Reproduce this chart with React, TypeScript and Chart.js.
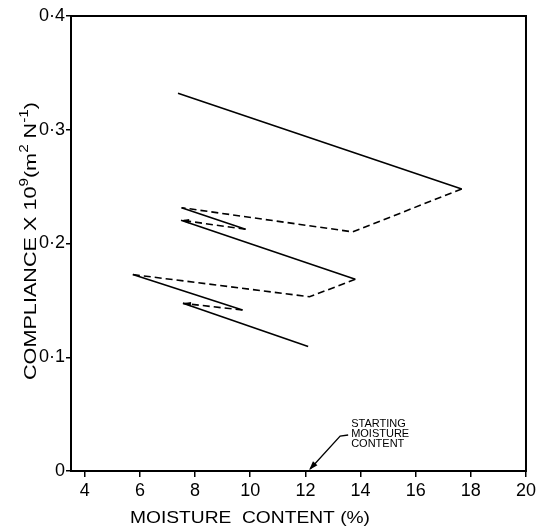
import React, { useEffect, useRef } from "react";
import { Chart, registerables } from "chart.js";

Chart.register(...registerables);

// Path of the compliance/moisture cycle (x: moisture %, y: compliance)
const moisture = [7.38, 17.67, 13.72, 7.51, 9.83, 7.49, 13.81, 12.15, 5.74, 9.72, 7.56, 12.1];
const compliance = [0.332, 0.248, 0.2102, 0.2315, 0.2125, 0.2205, 0.1685, 0.1532, 0.1727, 0.1415, 0.1474, 0.1095];
// style of the segment that starts at each point (true = dashed)
const segmentDashed = [false, true, true, false, true, false, true, true, false, true, false];
// points that carry a small arrow head
const arrowPointIdx = [5, 10];

const xTicks = [4, 6, 8, 10, 12, 14, 16, 18, 20];
const yTicks = [0, 0.1, 0.2, 0.3, 0.4];
const yTickLabels = ["0", "0·1", "0·2", "0·3", "0·4"];

const startingMoisture = 12.1;
const startingLabel = ["STARTING", "MOISTURE", "CONTENT"];
const xTitle = "MOISTURE  CONTENT (%)";
const yTitleParts: { t: string; sup: boolean }[] = [
  { t: "COMPLIANCE X 10", sup: false },
  { t: "9", sup: true },
  { t: "(m", sup: false },
  { t: "2", sup: true },
  { t: " N", sup: false },
  { t: "-1", sup: true },
  { t: ")", sup: false },
];

const FONT = "'Liberation Sans', Arial, sans-serif";

function arrowHead(ctx: CanvasRenderingContext2D, x: number, y: number, ang: number, len: number, half: number) {
  ctx.save();
  ctx.translate(x, y);
  ctx.rotate(ang);
  ctx.beginPath();
  ctx.moveTo(0, 0);
  ctx.lineTo(-len, -half);
  ctx.lineTo(-len, half);
  ctx.closePath();
  ctx.fill();
  ctx.restore();
}

const decorPlugin = {
  id: "decor",
  afterDraw(chart: any) {
    const ctx: CanvasRenderingContext2D = chart.ctx;
    const { left, right, top, bottom } = chart.chartArea;
    const xs = chart.scales.x;
    const ys = chart.scales.y;
    ctx.save();
    ctx.strokeStyle = "#000";
    ctx.fillStyle = "#000";
    // frame
    ctx.lineWidth = 2;
    ctx.strokeRect(left, top, right - left, bottom - top);

    // arrow heads on the path
    for (const i of arrowPointIdx) {
      const x1 = xs.getPixelForValue(moisture[i]);
      const y1 = ys.getPixelForValue(compliance[i]);
      const x0 = xs.getPixelForValue(moisture[i - 1]);
      const y0 = ys.getPixelForValue(compliance[i - 1]);
      arrowHead(ctx, x1, y1, Math.atan2(y1 - y0, x1 - x0), 8, 2.2);
    }

    // starting moisture annotation
    const tx = xs.getPixelForValue(startingMoisture);
    const ty = ys.getPixelForValue(0);
    ctx.lineWidth = 1.3;
    ctx.beginPath();
    ctx.moveTo(tx + 2, ty - 2);
    ctx.lineTo(tx + 32, ty - 35);
    ctx.lineTo(tx + 40, ty - 36);
    ctx.stroke();
    arrowHead(ctx, tx + 1, ty - 1, Math.atan2(33, -30), 9, 3);

    ctx.font = `11px ${FONT}`;
    ctx.textBaseline = "alphabetic";
    ctx.textAlign = "left";
    startingLabel.forEach((s, k) => {
      ctx.fillText(s, tx + 43, ty - 44 + k * 10);
    });

    // x title
    ctx.font = `17px ${FONT}`;
    const tw = ctx.measureText(xTitle).width;
    const targetW = 240;
    ctx.save();
    ctx.translate(250, 523);
    ctx.scale(targetW / tw, 1);
    ctx.textAlign = "center";
    ctx.fillText(xTitle, 0, 0);
    ctx.restore();

    // y title (rotated, with superscripts)
    const size = 17;
    const supSize = 12;
    let W = 0;
    const widths = yTitleParts.map((p) => {
      ctx.font = `${p.sup ? supSize : size}px ${FONT}`;
      const w = ctx.measureText(p.t).width;
      W += w;
      return w;
    });
    const targetY = 278;
    ctx.save();
    ctx.translate(36, 241);
    ctx.rotate(-Math.PI / 2);
    ctx.scale(targetY / W, 1);
    let cx = -W / 2;
    ctx.textAlign = "left";
    yTitleParts.forEach((p, k) => {
      ctx.font = `${p.sup ? supSize : size}px ${FONT}`;
      ctx.fillText(p.t, cx, p.sup ? -8 : 0);
      cx += widths[k];
    });
    ctx.restore();

    ctx.restore();
  },
};

export default function App() {
  const ref = useRef<HTMLCanvasElement | null>(null);
  useEffect(() => {
    document.body.style.margin = "0";
    const canvas = ref.current;
    if (!canvas) return;
    const chart = new Chart(canvas, {
      type: "scatter",
      data: {
        datasets: [
          {
            data: moisture.map((x, i) => ({ x, y: compliance[i] })),
            showLine: true,
            borderColor: "#000",
            borderWidth: 1.6,
            pointRadius: 0,
            fill: false,
            segment: {
              borderDash: (c: any) => (segmentDashed[c.p0DataIndex] ? [7, 4] : []),
            },
          } as any,
        ],
      },
      options: {
        animation: false,
        responsive: false,
        maintainAspectRatio: false,
        layout: { padding: { top: 16, right: 12, left: 0, bottom: 0 } },
        plugins: { legend: { display: false }, tooltip: { enabled: false } },
        scales: {
          x: {
            type: "linear",
            min: 3.5,
            max: 20,
            afterBuildTicks: (s: any) => {
              s.ticks = xTicks.map((v) => ({ value: v }));
            },
            afterFit: (s: any) => {
              s.height = 58;
            },
            ticks: {
              color: "#000",
              font: { family: FONT, size: 18 },
              padding: 3,
              maxRotation: 0,
              autoSkip: false,
              callback: (v: any) => String(v),
            },
            grid: {
              display: true,
              drawOnChartArea: false,
              drawTicks: true,
              tickLength: 6,
              color: "#000",
              lineWidth: 1.5,
            },
            border: { display: false },
          },
          y: {
            type: "linear",
            min: 0,
            max: 0.4,
            afterBuildTicks: (s: any) => {
              s.ticks = yTicks.map((v) => ({ value: v }));
            },
            afterFit: (s: any) => {
              s.width = 71;
            },
            ticks: {
              color: "#000",
              font: { family: FONT, size: 18 },
              padding: 1,
              autoSkip: false,
              callback: (v: any) => {
                const i = yTicks.findIndex((t) => Math.abs(t - Number(v)) < 1e-9);
                return i >= 0 ? yTickLabels[i] : "";
              },
            },
            grid: {
              display: true,
              drawOnChartArea: false,
              drawTicks: true,
              tickLength: 5,
              color: "#000",
              lineWidth: 1.5,
            },
            border: { display: false },
          },
        },
      } as any,
      plugins: [decorPlugin],
    });
    return () => chart.destroy();
  }, []);
  return (
    <div style={{ width: 539, height: 529, background: "#fff" }}>
      <canvas ref={ref} width={539} height={529} style={{ display: "block" }} />
    </div>
  );
}
